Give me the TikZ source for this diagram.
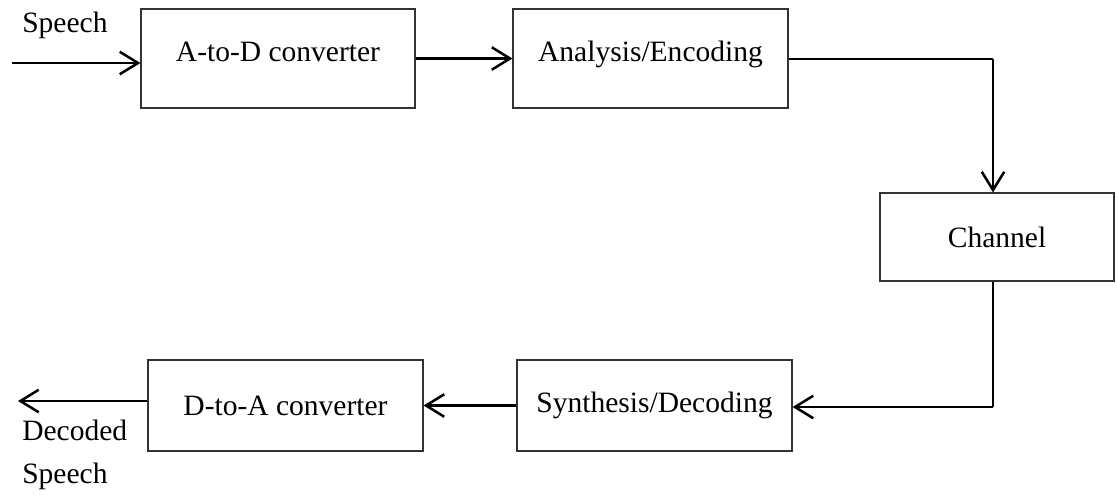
\documentclass[tikz,border=0pt]{standalone}
\usepackage{fontspec}
\setmainfont{Liberation Serif}
\usetikzlibrary{arrows.meta}

\tikzset{
  blockbox/.style={draw=black!80,line width=0.8pt,align=center,inner sep=0pt,minimum width=6.875cm},
  toprow/.style={text height=15pt,text depth=11pt},
  flow/.style={-{Straight Barb[length=13pt,width=16pt,line width=1.8pt]},line width=2pt},
  plainline/.style={line width=0.8pt},
}

\begin{document}
\begin{tikzpicture}[font=\fontsize{21}{25}\selectfont]
\useasboundingbox (0,0) rectangle (27.925,-12.375);

\node[blockbox,toprow,minimum width=6.85cm,minimum height=2.475cm] (atod) at (6.95,-1.4625) {A-to-D converter};
\node[blockbox,toprow,minimum height=2.475cm] (ana) at (16.2625,-1.4625) {Analysis/Encoding};
\node[blockbox,minimum width=5.85cm,minimum height=2.2cm] (chan) at (24.925,-5.925) {Channel};
\node[blockbox,minimum height=2.275cm] (syn) at (16.3625,-10.1375) {Synthesis/Decoding};
\node[blockbox,minimum height=2.275cm] (dtoa) at (7.1375,-10.1375) {D-to-A converter};

\coordinate (in) at (0.3,-1.575);
\coordinate (out) at (0.45,-10.025);
\coordinate (c1) at (24.825,-1.475);
\coordinate (c2) at (24.825,-10.175);

\node[anchor=west,inner sep=0pt] (speechin) at (0.55,-0.625) {Speech};
\node[anchor=west,inner sep=0pt] (decoded) at (0.55,-10.75) {Decoded};
\node[anchor=west,inner sep=0pt] (speechout) at (0.55,-11.9) {Speech};

\draw[flow] (in) -- (in -| atod.west);
\draw[flow] (atod) -- (ana);
\draw[plainline] (ana.east |- c1) -- (c1);
\draw[flow] (c1) -- (c1 |- chan.north);
\draw[plainline] (c1 |- chan.south) -- (c2);
\draw[flow] (c2) -- (c2 -| syn.east);
\draw[flow] (syn) -- (dtoa);
\draw[flow] (dtoa.west |- out) -- (out);
\end{tikzpicture}
\end{document}
